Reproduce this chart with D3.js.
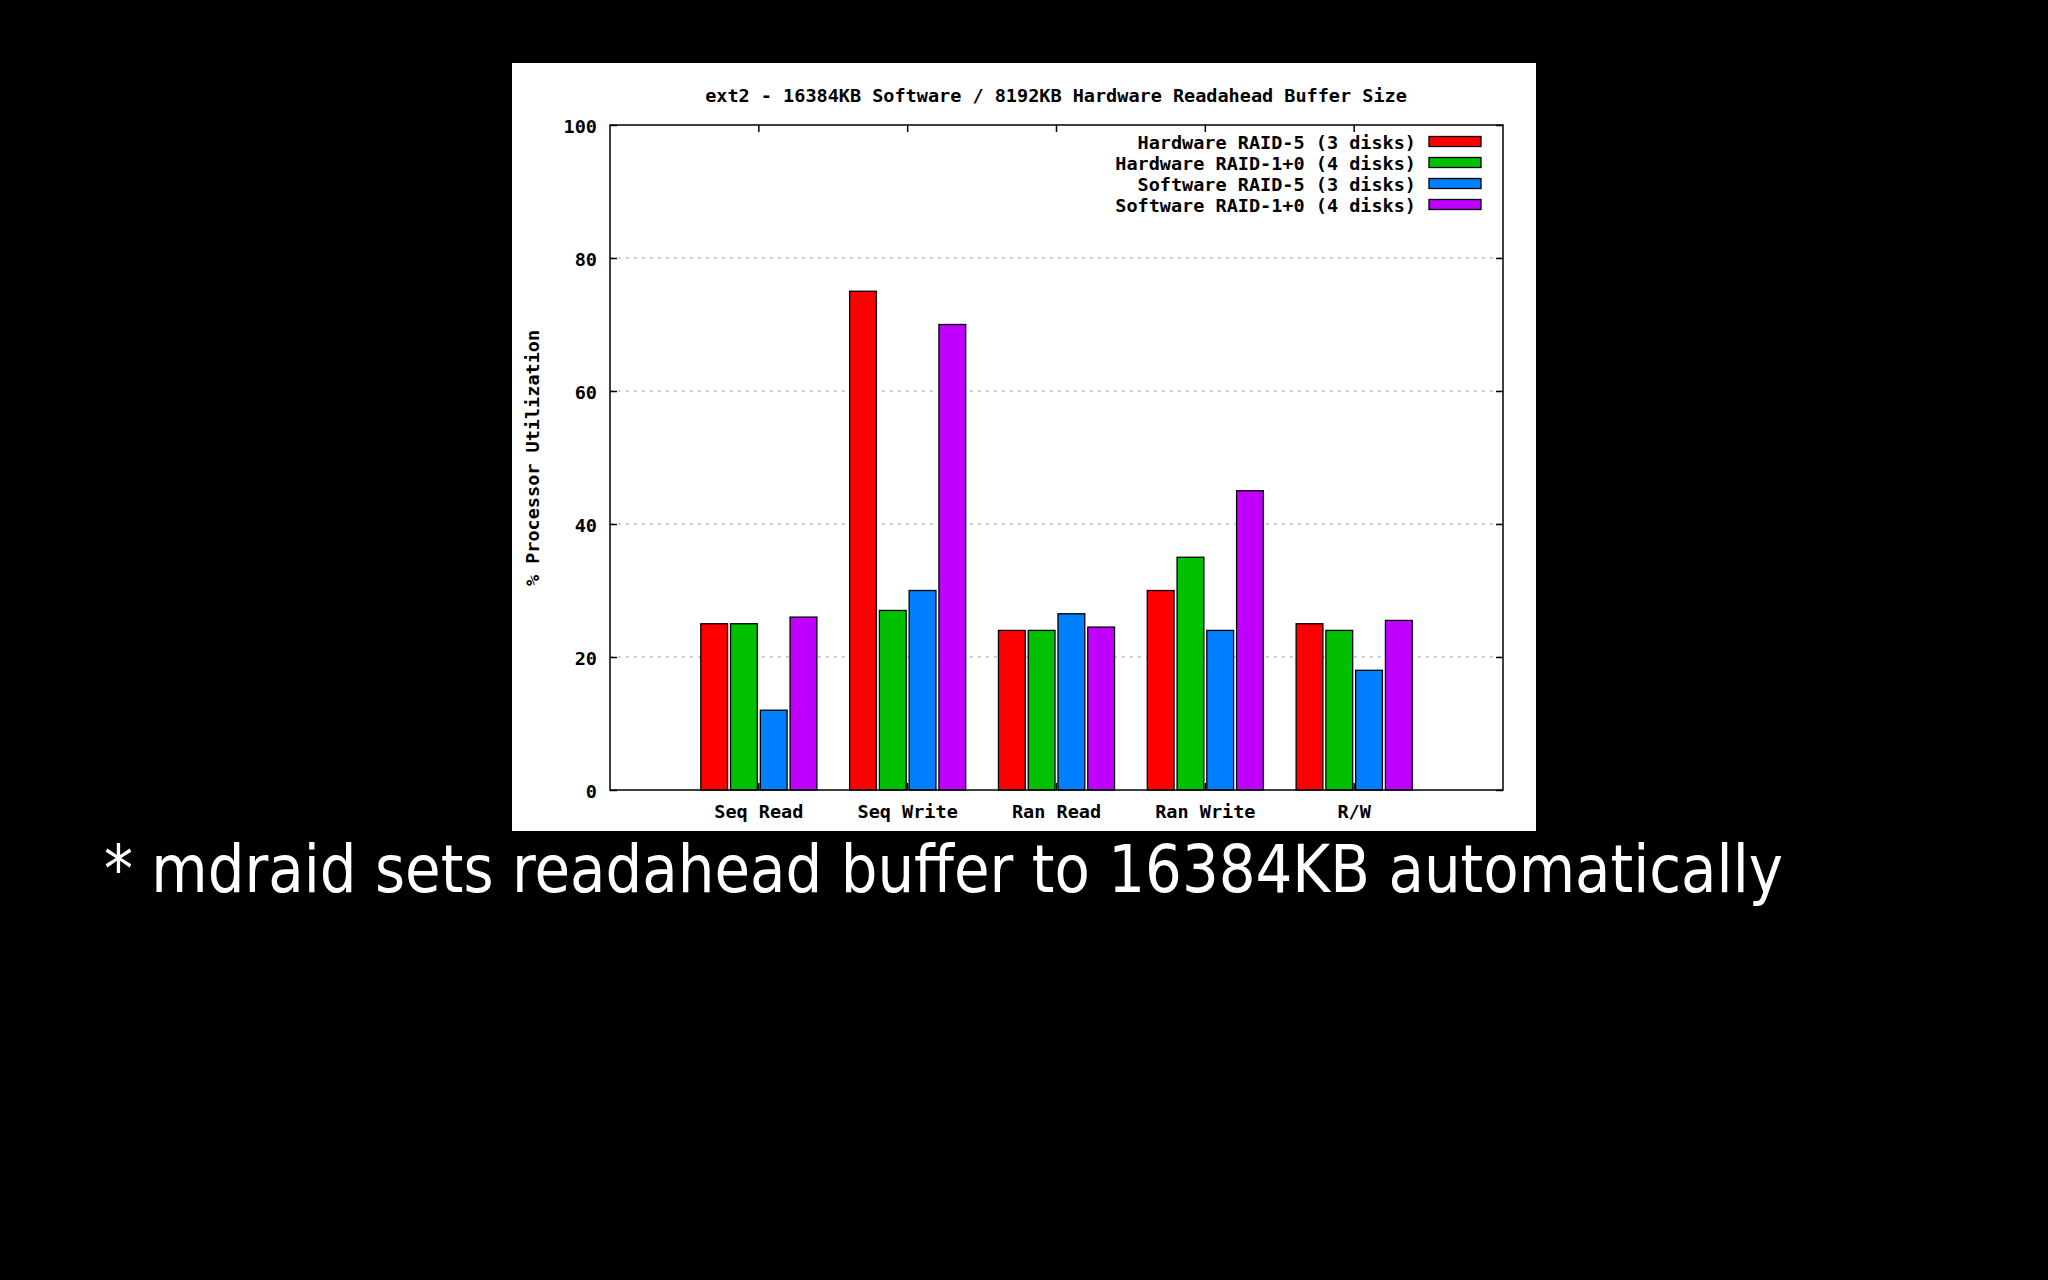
<!DOCTYPE html>
<html>
<head>
<meta charset="utf-8">
<script src="https://cdn.jsdelivr.net/npm/d3@7"></script>
<style>
  html, body { margin: 0; padding: 0; background: #000; }
  svg { display: block; }
</style>
</head>
<body>
<div id="chart"></div>
<script>
// Chart data
const categories = ['Seq Read', 'Seq Write', 'Ran Read', 'Ran Write', 'R/W'];
const seriesNames = [
  'Hardware RAID-5 (3 disks)',
  'Hardware RAID-1+0 (4 disks)',
  'Software RAID-5 (3 disks)',
  'Software RAID-1+0 (4 disks)'
];
const hwRaid5 = [25, 75, 24, 30, 25];
const hwRaid10 = [25, 27, 24, 35, 24];
const swRaid5 = [12, 30, 26.5, 24, 18];
const swRaid10 = [26, 70, 24.5, 45, 25.5];
const yTicks = [0, 20, 40, 60, 80, 100];
const seriesColors = ['#ff0000', '#00c000', '#0080ff', '#c000ff'];

const chartTitle = 'ext2 - 16384KB Software / 8192KB Hardware Readahead Buffer Size';
const yLabel = '% Processor Utilization';
const footnote = '* mdraid sets readahead buffer to 16384KB automatically';

const seriesValues = [hwRaid5, hwRaid10, swRaid5, swRaid10];

const width = 2048;
const height = 1280;
const monoFont = '"DejaVu Sans Mono", "Liberation Mono", monospace';

const svg = d3.select('#chart')
  .append('svg')
  .attr('width', width)
  .attr('height', height);

svg.append('rect')
  .attr('width', width)
  .attr('height', height)
  .attr('fill', '#000');

// White chart panel
const panel = { x: 512, y: 63, w: 1024, h: 768 };
svg.append('rect')
  .attr('x', panel.x)
  .attr('y', panel.y)
  .attr('width', panel.w)
  .attr('height', panel.h)
  .attr('fill', '#fff');

// Plot area
const plot = { left: 610, right: 1503, top: 125, bottom: 790 };

const x0 = d3.scaleBand()
  .domain(categories)
  .range([plot.left, plot.right])
  .paddingInner(0)
  .paddingOuter(0.5);

const x1 = d3.scaleBand()
  .domain(seriesNames)
  .range([-0.4 * x0.bandwidth(), 0.4 * x0.bandwidth()])
  .paddingInner(0.1)
  .paddingOuter(0.05);

const y = d3.scaleLinear()
  .domain([0, 100])
  .range([plot.bottom, plot.top]);

// Grid lines
svg.append('g')
  .selectAll('line')
  .data(yTicks.filter(d => d > 0 && d < 100))
  .join('line')
  .attr('x1', plot.left)
  .attr('x2', plot.right)
  .attr('y1', d => y(d))
  .attr('y2', d => y(d))
  .attr('stroke', '#a0a0a0')
  .attr('stroke-width', 1.2)
  .attr('stroke-dasharray', '3,5');

// Axes with inward ticks
const tickLen = 7;
const axisLeft = svg.append('g')
  .attr('transform', `translate(${plot.left},0)`)
  .call(d3.axisLeft(y).tickValues(yTicks).tickSize(-tickLen).tickPadding(13));

const axisRight = svg.append('g')
  .attr('transform', `translate(${plot.right},0)`)
  .call(d3.axisRight(y).tickValues(yTicks).tickSize(-tickLen).tickFormat(''));

const axisBottom = svg.append('g')
  .attr('transform', `translate(0,${plot.bottom})`)
  .call(d3.axisBottom(x0).tickSize(-tickLen).tickPadding(15));

const axisTop = svg.append('g')
  .attr('transform', `translate(0,${plot.top})`)
  .call(d3.axisTop(x0).tickSize(-tickLen).tickFormat(''));

[axisLeft, axisRight, axisBottom, axisTop].forEach(a => {
  a.select('.domain').remove();
  a.selectAll('line').attr('stroke', '#000').attr('stroke-width', 1.5);
  a.selectAll('text')
    .attr('fill', '#000')
    .attr('font-family', monoFont)
    .attr('font-weight', 'bold')
    .attr('font-size', '18.5px');
});
axisLeft.selectAll('text').attr('dy', '0.42em');

// Bars
const groups = svg.append('g')
  .selectAll('g')
  .data(categories)
  .join('g')
  .attr('transform', d => `translate(${x0(d) + x0.bandwidth() / 2},0)`);

groups.selectAll('rect')
  .data((d, ci) => seriesNames.map((s, si) => ({ s, si, v: seriesValues[si][ci] })))
  .join('rect')
  .attr('x', d => x1(d.s))
  .attr('y', d => y(d.v))
  .attr('width', x1.bandwidth())
  .attr('height', d => y(0) - y(d.v))
  .attr('fill', d => seriesColors[d.si])
  .attr('stroke', '#000')
  .attr('stroke-width', 1.3);

// Plot border
svg.append('rect')
  .attr('x', plot.left)
  .attr('y', plot.top)
  .attr('width', plot.right - plot.left)
  .attr('height', plot.bottom - plot.top)
  .attr('fill', 'none')
  .attr('stroke', '#000')
  .attr('stroke-width', 1.5);

// Title
svg.append('text')
  .attr('x', 1056)
  .attr('y', 94)
  .attr('dy', '0.42em')
  .attr('text-anchor', 'middle')
  .attr('font-family', monoFont)
  .attr('font-weight', 'bold')
  .attr('font-size', '18.5px')
  .attr('fill', '#000')
  .text(chartTitle);

// Y axis label
svg.append('text')
  .attr('transform', 'translate(533,458) rotate(-90)')
  .attr('dy', '0.35em')
  .attr('text-anchor', 'middle')
  .attr('font-family', monoFont)
  .attr('font-weight', 'bold')
  .attr('font-size', '18.5px')
  .attr('fill', '#000')
  .text(yLabel);

// Legend
const legendRow = d3.scaleBand()
  .domain(seriesNames)
  .range([131, 215]);

const legend = svg.append('g')
  .selectAll('g')
  .data(seriesNames)
  .join('g')
  .attr('transform', d => `translate(0,${legendRow(d) + legendRow.bandwidth() / 2})`);

legend.append('text')
  .attr('x', 1416)
  .attr('dy', '0.38em')
  .attr('text-anchor', 'end')
  .attr('font-family', monoFont)
  .attr('font-weight', 'bold')
  .attr('font-size', '18.5px')
  .attr('fill', '#000')
  .text(d => d);

legend.append('rect')
  .attr('x', 1429)
  .attr('y', -5)
  .attr('width', 52)
  .attr('height', 10)
  .attr('fill', (d, i) => seriesColors[i])
  .attr('stroke', '#000')
  .attr('stroke-width', 1.3);

// Footnote below the chart
svg.append('text')
  .attr('x', 104)
  .attr('y', 892)
  .attr('font-family', '"DejaVu Sans", sans-serif')
  .attr('font-size', '66px')
  .attr('fill', '#fff')
  .attr('textLength', 1679)
  .attr('lengthAdjust', 'spacingAndGlyphs')
  .text(footnote);
</script>
</body>
</html>
